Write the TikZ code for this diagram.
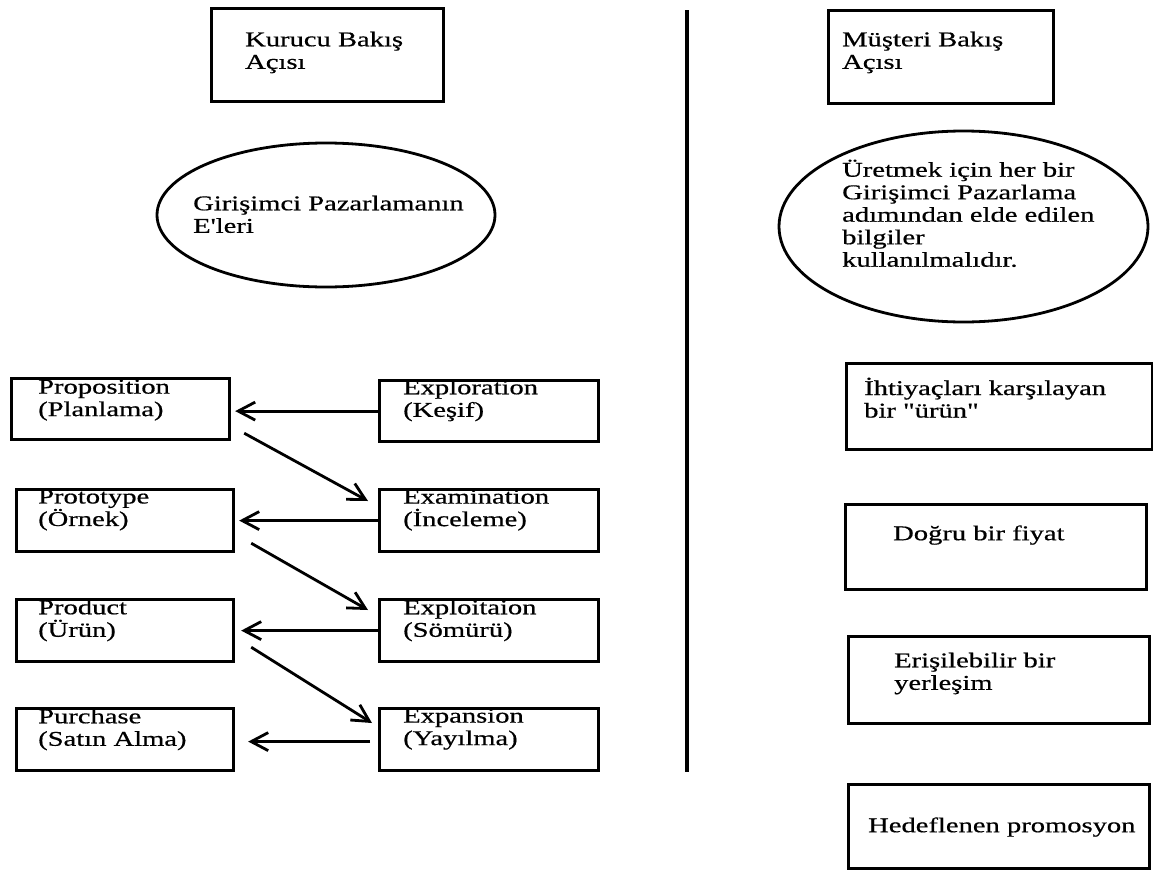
\documentclass[tikz,border=0pt]{standalone}
\usepackage{fontspec}
\setmainfont{Liberation Serif}[FakeStretch=1.36,FakeBold=0.6,Ligatures=TeXOff]
\usetikzlibrary{arrows.meta,calc,shapes.geometric}

\begin{document}
\begin{tikzpicture}[x=1pt,y=-1pt,
  box/.style={draw,line width=3.2pt,rectangle,anchor=north west,inner sep=0pt},
  oval/.style={draw,line width=2.8pt,ellipse,inner sep=0pt},
  % text blocks are placed by the baseline of their first line
  txt/.style={anchor=north west,yshift=15.5pt,inner sep=0pt,align=left,
    font=\fontsize{21}{22.5}\selectfont,
    execute at begin node={\rule{0pt}{15.5pt}}},
  arr/.style={-{Straight Barb[length=17pt,width=18pt]},line width=2.8pt},
  divider/.style={line width=3.2pt}]

\fill[white] (0,0) rectangle (1153,870);
\useasboundingbox (0,0) rectangle (1153,870);

% headings
\node[box,minimum width=232pt,minimum height=93pt] (kurucu) at (210,7) {};
\node[txt] (tkurucu) at (245,47) {Kurucu Bakış\\Açısı};
\node[box,minimum width=225pt,minimum height=93pt] (musteri) at (827,9) {};
\node[txt] (tmusteri) at (842,47) {Müşteri Bakış\\Açısı};

% dividing line
\coordinate (vtop) at (687,10);
\coordinate (vbot) at (687,772);
\draw[divider] (vtop) -- (vbot);

% ovals
\node[oval,minimum width=338pt,minimum height=144pt] (eL) at (326,215) {};
\node[txt] (teL) at (193,211) {Girişimci Pazarlamanın\\E'leri};
\node[oval,minimum width=369pt,minimum height=191pt] (eR) at (963.5,226.5) {};
\node[txt] (teR) at (842,175) {Üretmek için her bir\\Girişimci Pazarlama\\adımından elde edilen\\bilgiler\\kullanılmalıdır.};

% left column of steps
\node[box,minimum width=218pt,minimum height=61pt] (prop) at (10,377) {};
\node[txt] (tprop) at (38,395) {Proposition\\(Planlama)};
\node[box,minimum width=217pt,minimum height=62pt] (prot) at (15,488) {};
\node[txt] (tprot) at (38,505) {Prototype\\(Örnek)};
\node[box,minimum width=217pt,minimum height=62pt] (prod) at (15,598) {};
\node[txt] (tprod) at (38,615) {Product\\(Ürün)};
\node[box,minimum width=217pt,minimum height=62pt] (purch) at (15,707) {};
\node[txt] (tpurch) at (38,724) {Purchase\\(Satın Alma)};

% right column of steps
\node[box,minimum width=219pt,minimum height=61pt] (expl) at (378,379) {};
\node[txt] (texpl) at (403,395) {Exploration\\(Keşif)};
\node[box,minimum width=219pt,minimum height=62pt] (exam) at (378,488) {};
\node[txt] (texam) at (403,505) {Examination\\(İnceleme)};
\node[box,minimum width=219pt,minimum height=62pt] (exploit) at (378,598) {};
\node[txt] (texploit) at (403,615) {Exploitaion\\(Sömürü)};
\node[box,minimum width=219pt,minimum height=62pt] (expan) at (378,707) {};
\node[txt] (texpan) at (403,724) {Expansion\\(Yayılma)};

% customer side
\node[box,minimum width=306pt,minimum height=86pt] (need) at (845,362) {};
\node[txt] (tneed) at (864,393) {İhtiyaçları karşılayan\\bir "ürün"};
\node[box,minimum width=301pt,minimum height=85pt] (price) at (844,503) {};
\node[txt] (tprice) at (893,540) {Doğru bir fiyat};
\node[box,minimum width=301pt,minimum height=87pt] (place) at (847,635) {};
\node[txt] (tplace) at (894,668) {Erişilebilir bir\\yerleşim};
\node[box,minimum width=301pt,minimum height=84pt] (promo) at (847,783) {};
\node[txt] (tpromo) at (868,832) {Hedeflenen promosyon};

% connectors
\draw[arr] (expl.west) -- ($(expl.west -| prop.east)+(4,0)$);
\draw[arr] ($(prop.south east)+(13,-8)$) -- ($(exam.north west)+(-10,13)$);
\draw[arr] (exam.west) -- ($(exam.west -| prot.east)+(4,0)$);
\draw[arr] ($(prot.south east)+(16,-10)$) -- ($(exploit.north west)+(-10,12)$);
\draw[arr] (exploit.west) -- ($(exploit.west -| prod.east)+(6,0)$);
\draw[arr] ($(prod.south east)+(16,-16)$) -- ($(expan.north west)+(-6,16)$);
\draw[arr] ($(expan.west)+(-8,2)$) -- ($(expan.west -| purch.east)+(13,2)$);
\end{tikzpicture}
\end{document}
